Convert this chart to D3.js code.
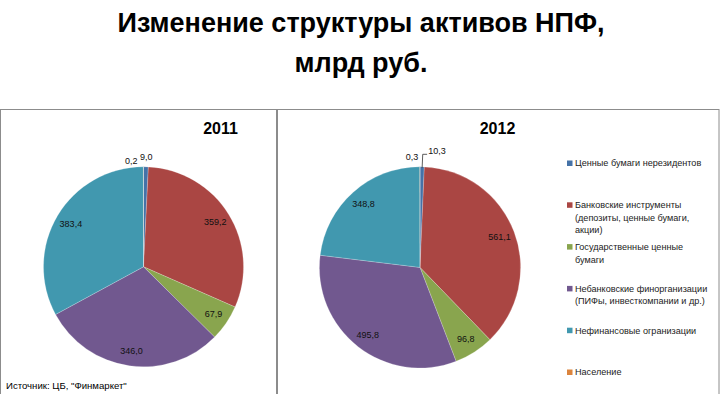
<!DOCTYPE html>
<html><head><meta charset="utf-8">
<script src="https://cdn.jsdelivr.net/npm/d3@7/dist/d3.min.js"></script>
<style>body{margin:0;background:#fff}svg{display:block}</style>
</head><body>
<svg id="c" width="720" height="394"></svg>
<script>
// ---- data ----
const categories = [
  "Ценные бумаги нерезидентов",
  "Банковские инструменты (депозиты, ценные бумаги, акции)",
  "Государственные ценные бумаги",
  "Небанковские финорганизации (ПИФы, инвесткомпании и др.)",
  "Нефинансовые огранизации",
  "Население"
];
const legendLines = [
  ["Ценные  бумаги нерезидентов"],
  ["Банковские инструменты", "(депозиты, ценные бумаги,", "акции)"],
  ["Государственные ценные", "бумаги"],
  ["Небанковские финорганизации", "(ПИФы, инвесткомпании и др.)"],
  ["Нефинансовые огранизации"],
  ["Население"]
];
const years = ["2011", "2012"];
const values2011 = [9.0, 359.2, 67.9, 346.0, 383.4, 0.2];
const values2012 = [10.3, 561.1, 96.8, 495.8, 348.8, 0.3];
const colors = ["#4572A7", "#AA4643", "#89A54E", "#71588F", "#4198AF", "#DB843D"];

const fmt = v => d3.format(".1f")(v).replace(".", ",");

const svg = d3.select("#c");
const FONT = "'Liberation Sans', Arial, sans-serif";

// title
svg.append("text").attr("x", 361).attr("y", 32).attr("text-anchor", "middle")
  .attr("font-family", FONT).attr("font-weight", "bold").attr("font-size", 27)
  .text("Изменение структуры активов НПФ,");
svg.append("text").attr("x", 361).attr("y", 71.5).attr("text-anchor", "middle")
  .attr("font-family", FONT).attr("font-weight", "bold").attr("font-size", 27)
  .text("млрд руб.");

// panels
svg.append("rect").attr("x", 0.5).attr("y", 109.5).attr("width", 276).attr("height", 320)
  .attr("fill", "none").attr("stroke", "#8c8c8c");
svg.append("rect").attr("x", 277.5).attr("y", 109.5).attr("width", 441.5).attr("height", 320)
  .attr("fill", "none").attr("stroke", "#8c8c8c");

const charts = [
  {values: values2011, year: years[0], cx: 143.5, cy: 266.8, r: 100, yearX: 220.5,
   small: {0: {dx: -3.5, dy: -10, anchor: "start"}, 5: {dx: -6, dy: -6, anchor: "end"}}, leader: false},
  {values: values2012, year: years[1], cx: 420, cy: 267.4, r: 100.6, yearX: 497.5,
   small: {0: {dx: 8.3, dy: -15.5, anchor: "start"}, 5: {dx: -1.7, dy: -9.8, anchor: "end"}}, leader: true}
];

const pie = d3.pie().sort(null).value(d => d);

charts.forEach(ch => {
  const g = svg.append("g").attr("transform", `translate(${ch.cx},${ch.cy})`);
  const arcs = pie(ch.values);
  const arc = d3.arc().innerRadius(0).outerRadius(ch.r);
  g.selectAll("path").data(arcs).enter().append("path")
    .attr("d", arc).attr("fill", (d, i) => colors[i])
    .attr("stroke", "#ffffff").attr("stroke-opacity", 0.35).attr("stroke-width", 0.6);

  arcs.forEach((d, i) => {
    const mid = (d.startAngle + d.endAngle) / 2;
    let x, y, anchor = "middle";
    if (ch.small[i]) {
      const s = ch.small[i];
      x = s.dx; y = -ch.r + s.dy; anchor = s.anchor;
    } else {
      const lr = ch.r * 0.845;
      x = Math.sin(mid) * lr; y = -Math.cos(mid) * lr;
    }
    g.append("text").attr("x", x).attr("y", y).attr("dy", "0.35em")
      .attr("text-anchor", anchor).attr("font-family", FONT).attr("font-size", 9)
      .attr("fill", "#111").text(fmt(d.data));
  });

  if (ch.leader) {
    const a0 = arcs[0];
    const mid = (a0.startAngle + a0.endAngle) / 2;
    const px = Math.sin(mid) * (ch.r - 1);
    g.append("path")
      .attr("d", `M${px},${-ch.r + 1}L${px + 0.6},${-ch.r - 12.5}L${px + 5},${-ch.r - 12.5}`)
      .attr("fill", "none").attr("stroke", "#333").attr("stroke-width", 0.8);
  }

  svg.append("text").attr("x", ch.yearX).attr("y", 133.5).attr("text-anchor", "middle")
    .attr("font-family", FONT).attr("font-weight", "bold").attr("font-size", 16)
    .text(ch.year);
});

// legend
const legY0 = 163.3, legStep = 41.8, lineH = 12.5;
legendLines.forEach((lines, i) => {
  const y = legY0 + i * legStep;
  svg.append("rect").attr("x", 567).attr("y", y - 2.8).attr("width", 5.5).attr("height", 5.5)
    .attr("fill", colors[i]);
  lines.forEach((t, j) => {
    svg.append("text").attr("x", 575).attr("y", y + j * lineH).attr("dy", "0.35em")
      .attr("font-family", FONT).attr("font-size", 9.1).attr("fill", "#222").text(t);
  });
});

// source
svg.append("text").attr("x", 6).attr("y", 386).attr("dy", "0.35em")
  .attr("font-family", FONT).attr("font-size", 9.6).attr("fill", "#000")
  .text("Источник: ЦБ, \"Финмаркет\"");
</script>
</body></html>
